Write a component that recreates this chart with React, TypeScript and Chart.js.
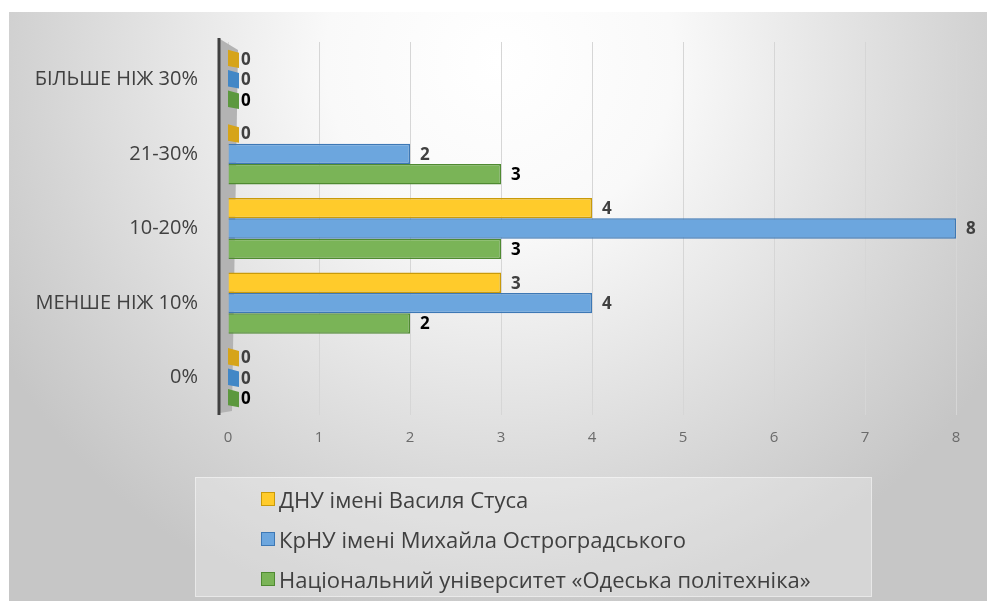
import React, { useEffect, useRef } from "react";
import { Chart, registerables } from "chart.js";

Chart.register(...registerables);

// ---- data ----
const categories = ["БІЛЬШЕ НІЖ 30%", "21-30%", "10-20%", "МЕНШЕ НІЖ 10%", "0%"];
const seriesNames = [
  "ДНУ імені Василя Стуса",
  "КрНУ імені Михайла Остроградського",
  "Національний університет «Одеська політехніка»",
];
const dnuValues = [0, 0, 4, 3, 0];
const krnuValues = [0, 2, 8, 4, 0];
const odesaValues = [0, 3, 3, 2, 0];
const xMin = 0;
const xMax = 8;

// ---- styles ----
const FONT = "'Open Sans', 'Noto Sans', sans-serif";
const fills = ["#FFCB2B", "#6CA6DE", "#7AB457"];
const borders = ["#C99A0A", "#3D78B5", "#4F8A31"];
const stubColors = ["#D6A419", "#4287C6", "#5C983E"];
const labelColors = ["#404040", "#404040", "#000000"];

const bgPlugin = {
  id: "bgPlugin",
  beforeDraw(chart: any) {
    const { ctx, width, height } = chart;
    ctx.save();
    ctx.fillStyle = "#ffffff";
    ctx.fillRect(0, 0, width, height);
    const g = ctx.createRadialGradient(500, 60, 0, 500, 60, 580);
    g.addColorStop(0, "#ffffff");
    g.addColorStop(0.3, "#f9f9f9");
    g.addColorStop(0.8, "#d4d4d4");
    g.addColorStop(1, "#c6c6c6");
    ctx.fillStyle = g;
    ctx.fillRect(9, 12, width - 9, height - 12);
    ctx.restore();
  },
};

const wallPlugin = {
  id: "wallPlugin",
  beforeDatasetsDraw(chart: any) {
    const { ctx, chartArea } = chart;
    const { left, top, bottom } = chartArea;
    ctx.save();
    ctx.fillStyle = "#b3b3b3";
    ctx.beginPath();
    ctx.moveTo(left - 8, top - 3);
    ctx.lineTo(left + 10, top + 8);
    ctx.lineTo(left + 4, bottom - 4);
    ctx.lineTo(left - 8, bottom - 2);
    ctx.closePath();
    ctx.fill();
    ctx.strokeStyle = "#404040";
    ctx.lineWidth = 3;
    ctx.beginPath();
    ctx.moveTo(left - 9, top - 4);
    ctx.lineTo(left - 9, bottom);
    ctx.stroke();
    ctx.restore();
  },
  afterDatasetsDraw(chart: any) {
    const { ctx } = chart;
    ctx.save();
    chart.data.datasets.forEach((ds: any, di: number) => {
      const meta = chart.getDatasetMeta(di);
      meta.data.forEach((el: any, i: number) => {
        const v = ds.data[i];
        const h = el.height;
        let tx = el.x + 10;
        if (v === 0) {
          ctx.fillStyle = stubColors[di];
          ctx.beginPath();
          ctx.moveTo(el.base, el.y - h / 2 + 1);
          ctx.lineTo(el.base + 11, el.y - h / 2 + 4);
          ctx.lineTo(el.base + 11, el.y + h / 2 - 1);
          ctx.lineTo(el.base, el.y + h / 2 - 3);
          ctx.closePath();
          ctx.fill();
          tx = el.base + 13;
        }
        ctx.fillStyle = labelColors[di];
        ctx.font = `bold 17px ${FONT}`;
        ctx.textAlign = "left";
        ctx.textBaseline = "middle";
        ctx.fillText(String(v), tx, el.y + 1);
      });
    });
    ctx.restore();
  },
};

export default function App() {
  const ref = useRef<HTMLCanvasElement | null>(null);

  useEffect(() => {
    if (!ref.current) return;
    const series = [dnuValues, krnuValues, odesaValues];
    const chart = new Chart(ref.current, {
      type: "bar",
      data: {
        labels: categories,
        datasets: series.map((vals, i) => ({
          label: seriesNames[i],
          data: vals,
          backgroundColor: fills[i],
          borderColor: borders[i],
          borderWidth: 1.5,
          categoryPercentage: 0.82,
          barPercentage: 1,
        })),
      },
      options: {
        indexAxis: "y",
        animation: false,
        responsive: false,
        maintainAspectRatio: false,
        layout: { padding: { top: 40, right: 31, left: 0, bottom: 0 } },
        plugins: {
          legend: { display: false },
          tooltip: { enabled: false },
        },
        scales: {
          x: {
            min: xMin,
            max: xMax,
            ticks: {
              stepSize: 1,
              color: "#6b6b6b",
              padding: 14,
              font: { family: FONT, size: 15 },
            },
            grid: { color: "#d6d6d6", lineWidth: 1, drawTicks: false },
            border: { display: false },
            afterFit: (s: any) => {
              s.height = 186;
            },
          },
          y: {
            ticks: {
              color: "#404040",
              padding: 30,
              font: { family: FONT, size: 20 },
            },
            grid: { display: false, drawTicks: false },
            border: { display: false },
            afterFit: (s: any) => {
              s.width = 228;
            },
          },
        },
      },
      plugins: [bgPlugin, wallPlugin],
    });
    return () => chart.destroy();
  }, []);

  const legendItems = seriesNames.map((name, i) => (
    <div
      key={name}
      style={{
        display: "flex",
        alignItems: "center",
        height: 40,
        paddingLeft: 65,
      }}
    >
      <span
        style={{
          display: "inline-block",
          width: 14,
          height: 14,
          background: fills[i],
          border: `1px solid ${borders[i]}`,
          marginRight: 4,
          boxSizing: "border-box",
          flex: "none",
        }}
      />
      <span style={{ whiteSpace: "nowrap" }}>{name}</span>
    </div>
  ));

  return (
    <div style={{ position: "fixed", left: 0, top: 0, width: 987, height: 601 }}>
      <canvas ref={ref} width={987} height={601} style={{ display: "block" }} />
      <div
        style={{
          position: "absolute",
          left: 195,
          top: 477,
          width: 677,
          height: 120,
          boxSizing: "border-box",
          paddingTop: 1,
          background: "rgba(255,255,255,0.28)",
          border: "1px solid rgba(255,255,255,0.45)",
          fontFamily: FONT,
          fontSize: 22,
          color: "#404040",
        }}
      >
        {legendItems}
      </div>
    </div>
  );
}
